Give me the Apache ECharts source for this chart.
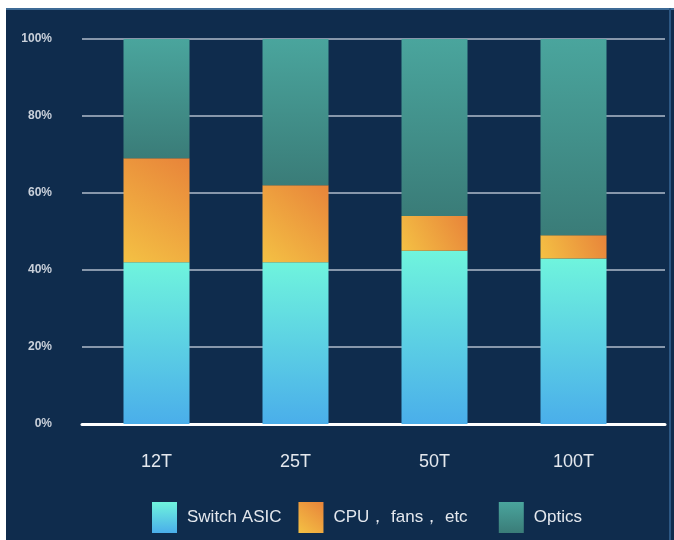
<!DOCTYPE html>
<html><head><meta charset="utf-8">
<script src="https://cdn.jsdelivr.net/npm/echarts@6/dist/echarts.min.js"></script>
<style>html,body{margin:0;padding:0;background:#fff;}#c{width:674px;height:540px;}</style>
</head><body><div id="c"></div>
<script>
const categories = ['12T', '25T', '50T', '100T'];
const seriesNames = ['Switch ASIC', 'CPU， fans， etc', 'Optics'];
const asicValues = [42, 42, 45, 43];
const cpuValues = [27, 20, 9, 6];
const opticsValues = [31, 38, 46, 51];
const yTicks = [0, 20, 40, 60, 80, 100];

const chart = echarts.init(document.getElementById('c'));
const lin = (x0,y0,x1,y1,c0,c1)=>new echarts.graphic.LinearGradient(x0,y0,x1,y1,[{offset:0,color:c0},{offset:1,color:c1}]);
const asicColor = lin(0,0,0,1,'#6ff4dd','#4aaeea');
const cpuColor = lin(0,1,1,0,'#f4c144','#e8843a');
const opticsColor = lin(0,0,0,1,'#4aa59d','#3a7c78');

chart.setOption({
  backgroundColor: '#0f2c4d',
  animation: false,
  graphic: [
    {type:'rect', left:0, top:0, shape:{width:674, height:8}, style:{fill:'#ffffff'}, z:100},
    {type:'rect', left:0, top:0, shape:{width:6, height:540}, style:{fill:'#ffffff'}, z:100},
    {type:'rect', left:6, top:8, shape:{width:668, height:2}, style:{fill:'#3d6a95'}, z:99},
    {type:'rect', left:669, top:8, shape:{width:2, height:532}, style:{fill:'#2c5783'}, z:99}
  ],
  grid: [
    {left: 87, right: 31, top: 39, bottom: 116},
    {left: 82, right: 9, top: 39, bottom: 116}
  ],
  xAxis: [
    {type:'category', gridIndex:0, data: categories,
     axisLine:{show:false}, axisTick:{show:false},
     axisLabel:{color:'#e4e8ee', fontSize:18, fontFamily:'Liberation Sans', margin:29}},
    {type:'category', gridIndex:1, data: categories,
     axisLine:{show:true, lineStyle:{color:'#ffffff', width:3}}, axisTick:{show:false}, axisLabel:{show:false}}
  ],
  yAxis: [
    {type:'value', gridIndex:0, min:0, max:100, interval:20, show:false, splitLine:{show:false}},
    {type:'value', gridIndex:1, min:yTicks[0], max:yTicks[yTicks.length-1], interval:20,
     axisLine:{show:false}, axisTick:{show:false},
     axisLabel:{color:'#c9d0da', fontSize:12, fontWeight:'bold', fontFamily:'Liberation Sans', margin:30, formatter:'{value}%'},
     splitLine:{show:true, lineStyle:{color:'#8797ab', width:2}}}
  ],
  legend: {
    left: 152, top: 502, padding: 0, itemWidth: 25, itemHeight: 31, itemGap: 17,
    data: seriesNames,
    icon: 'rect',
    formatter: name => name === seriesNames[1] ? name + '   ' : name,
    textStyle: {color:'#e4e8ee', fontSize:17, fontFamily:'Liberation Sans', padding:[0,0,0,5]}
  },
  series: [
    {name: seriesNames[0], type:'bar', stack:'a', data: asicValues, barWidth:66, itemStyle:{color: asicColor}, z:3},
    {name: seriesNames[1], type:'bar', stack:'a', data: cpuValues, barWidth:66, itemStyle:{color: cpuColor}, z:3},
    {name: seriesNames[2], type:'bar', stack:'a', data: opticsValues, barWidth:66, itemStyle:{color: opticsColor}, z:3}
  ]
});
</script></body></html>
